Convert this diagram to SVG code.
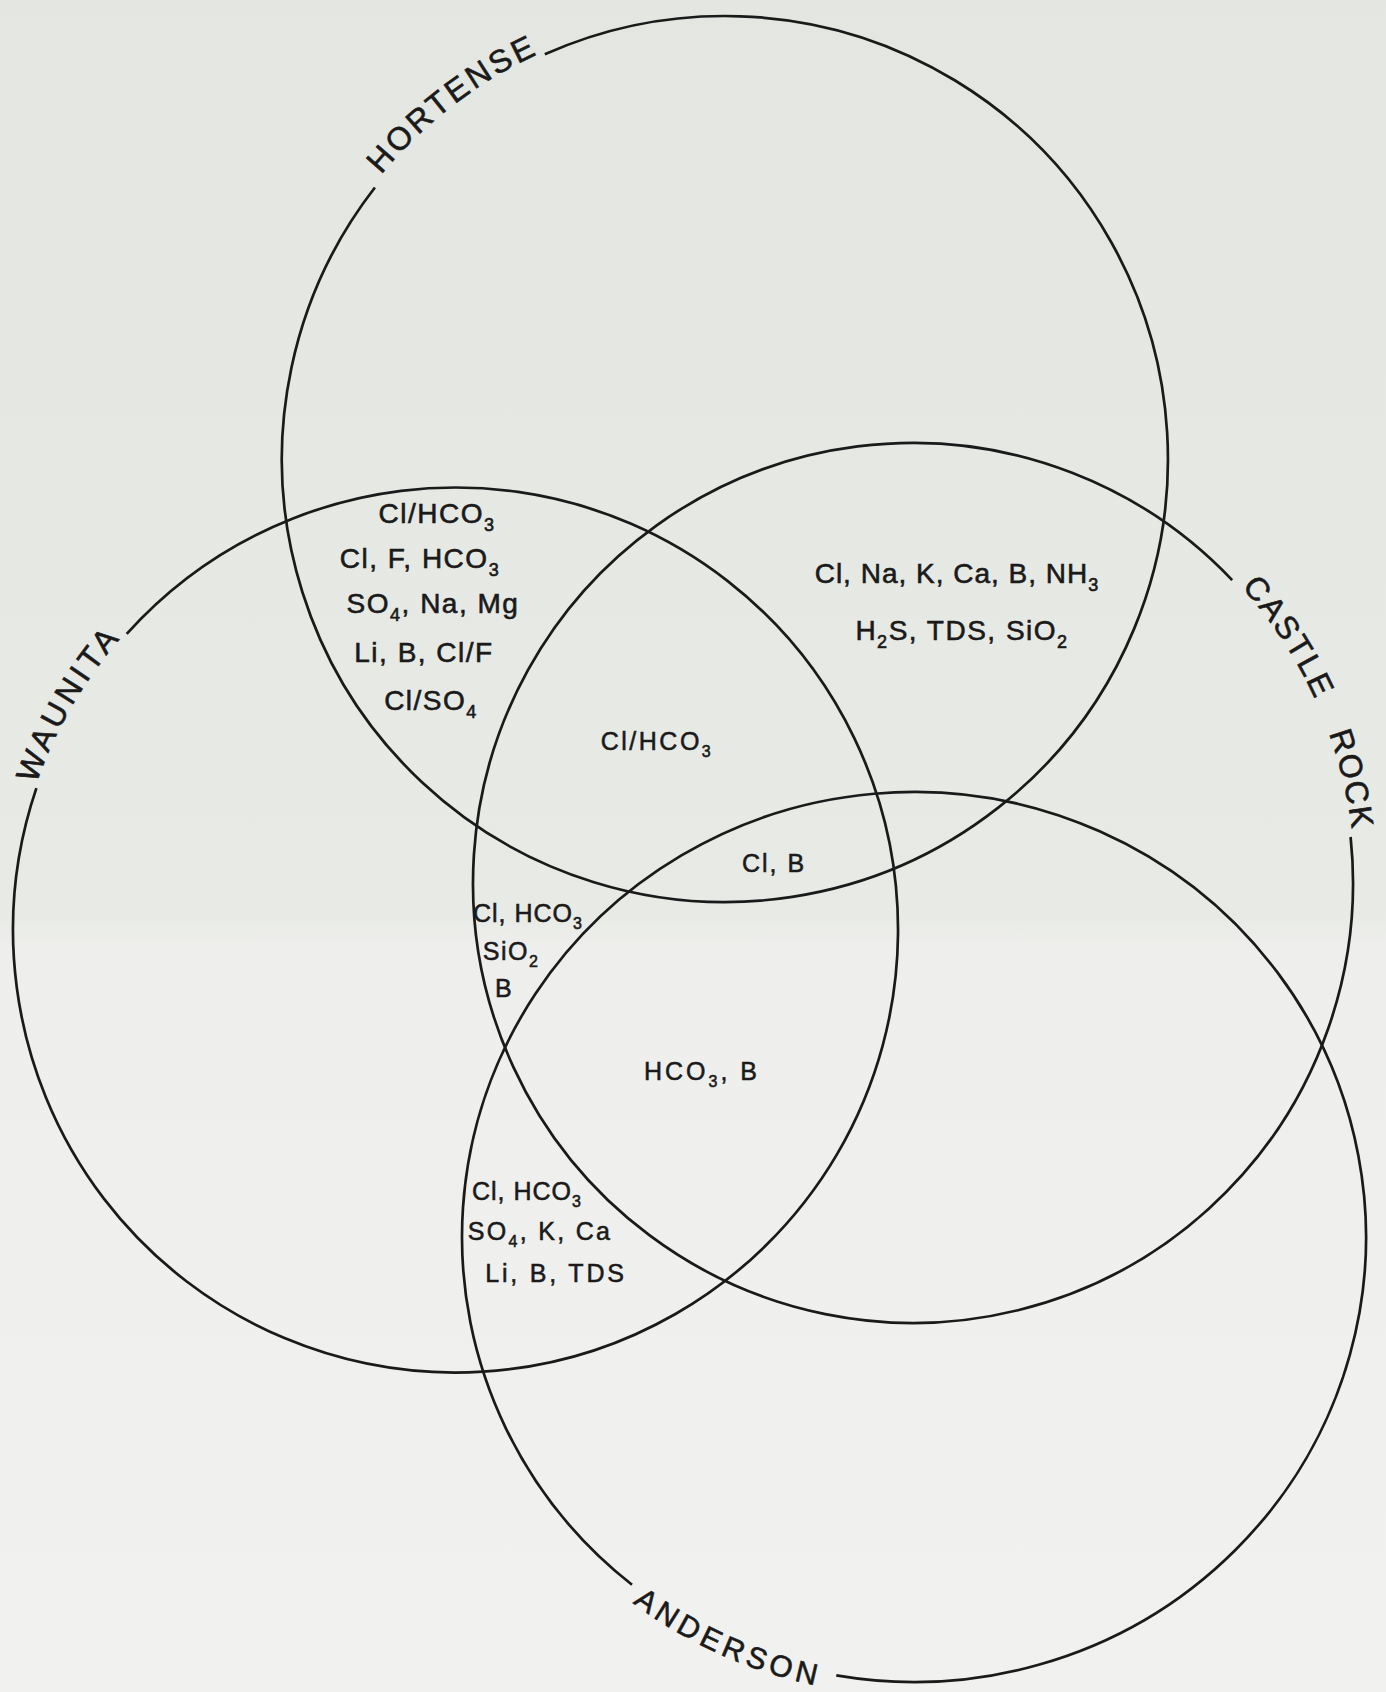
<svg xmlns="http://www.w3.org/2000/svg" width="1386" height="1692" viewBox="0 0 1386 1692">
<defs>
<linearGradient id="paper" x1="0" y1="0" x2="0" y2="1">
<stop offset="0" stop-color="#e4e6e1"/>
<stop offset="0.54" stop-color="#e8eae6"/>
<stop offset="0.56" stop-color="#eeefec"/>
<stop offset="1" stop-color="#f1f1ef"/>
</linearGradient>
<path id="tpH" d="M 307.2 302.8 A 446 446 0 0 1 682.3 15.1"/>
<path id="tpW" d="M 11.5 927.7 A 444 444 0 0 1 235.5 544.3"/>
<path id="tpC" d="M 1138.0 502.6 A 442 442 0 0 1 1347.5 964.3"/>
<path id="tpA" d="M 534.6 1503.5 A 466 459 0 0 0 958.6 1693.9"/>
</defs>
<style>
.ring{fill:none;stroke:#1a1a1a;stroke-width:2.7}
.lbl{font-family:"Liberation Sans",Arial,sans-serif;font-size:32px;fill:#1a1a1a;stroke:#1a1a1a;stroke-width:0.6px}
.a{font-family:"Liberation Sans",Arial,sans-serif;font-size:28px;fill:#1a1a1a;stroke:#1a1a1a;stroke-width:0.6px;letter-spacing:1.5px;text-anchor:middle}
.b{font-family:"Liberation Sans",Arial,sans-serif;font-size:25px;fill:#1a1a1a;stroke:#1a1a1a;stroke-width:0.55px;letter-spacing:1.5px;text-anchor:middle}
.s{font-size:18px}
.t{font-size:16px}
</style>
<rect x="0" y="0" width="1386" height="1692" fill="url(#paper)"/>
<g id="hortense">
<path class="ring" d="M 544.8 54.3 A 443 443 0 1 1 374.9 187.5"/>
<text class="lbl" style="letter-spacing:3px" text-anchor="middle"><textPath href="#tpH" startOffset="50%">HORTENSE</textPath></text>
</g>
<g id="waunita">
<path class="ring" d="M 126.7 633.9 A 442.5 442.5 0 1 1 36.4 788.1"/>
<text class="lbl" style="letter-spacing:4px" text-anchor="middle"><textPath href="#tpW" startOffset="50%">WAUNITA</textPath></text>
</g>
<g id="castle-rock">
<path class="ring" d="M 1350.6 837.0 A 440 440 0 1 1 1232.2 580.1"/>
<text class="lbl" style="letter-spacing:2px;word-spacing:24px" text-anchor="middle"><textPath href="#tpC" startOffset="50%">CASTLE ROCK</textPath></text>
</g>
<g id="anderson">
<path class="ring" d="M 632.0 1584.8 A 452 445 0 1 1 836.3 1675.4"/>
<text class="lbl" style="font-size:30px;letter-spacing:4.5px" text-anchor="middle"><textPath href="#tpA" startOffset="50%">ANDERSON</textPath></text>
</g>
<g id="connectors"></g>
<g id="region-hortense-waunita">
<text class="a" x="437" y="523">Cl/HCO<tspan class="s" dy="8">3</tspan></text>
<text class="a" x="420" y="568">Cl, F, HCO<tspan class="s" dy="8">3</tspan></text>
<text class="a" x="433" y="613">SO<tspan class="s" dy="8">4</tspan><tspan dy="-8">, Na, Mg</tspan></text>
<text class="a" x="424" y="662">Li, B, Cl/F</text>
<text class="a" x="431" y="710">Cl/SO<tspan class="s" dy="8">4</tspan></text>
</g>
<g id="region-hortense-castlerock">
<text class="a" x="957" y="583" style="letter-spacing:1px">Cl, Na, K, Ca, B, NH<tspan class="s" dy="8">3</tspan></text>
<text class="a" x="962" y="640">H<tspan class="s" dy="8">2</tspan><tspan dy="-8">S, TDS, SiO</tspan><tspan class="s" dy="8">2</tspan></text>
</g>
<g id="region-hortense-waunita-castlerock">
<text class="b" x="657" y="750" style="letter-spacing:2.5px">Cl/HCO<tspan class="t" dy="7">3</tspan></text>
</g>
<g id="region-all-four">
<text class="b" x="774" y="872" style="letter-spacing:2px">Cl, B</text>
</g>
<g id="region-waunita-castlerock-anderson">
<text class="b" x="528" y="922" style="letter-spacing:1px">Cl, HCO<tspan class="t" dy="7">3</tspan></text>
<text class="b" x="511" y="960">SiO<tspan class="t" dy="7">2</tspan></text>
<text class="b" x="504" y="997">B</text>
</g>
<g id="region-castlerock-anderson">
<text class="b" x="702" y="1080" style="letter-spacing:3px">HCO<tspan class="t" dy="7">3</tspan><tspan dy="-7">, B</tspan></text>
</g>
<g id="region-waunita-anderson">
<text class="b" x="527" y="1200" style="letter-spacing:1px">Cl, HCO<tspan class="t" dy="7">3</tspan></text>
<text class="b" x="540" y="1240" style="letter-spacing:2.3px">SO<tspan class="t" dy="7">4</tspan><tspan dy="-7">, K, Ca</tspan></text>
<text class="b" x="556" y="1282" style="letter-spacing:2.8px">Li, B, TDS</text>
</g>
</svg>
